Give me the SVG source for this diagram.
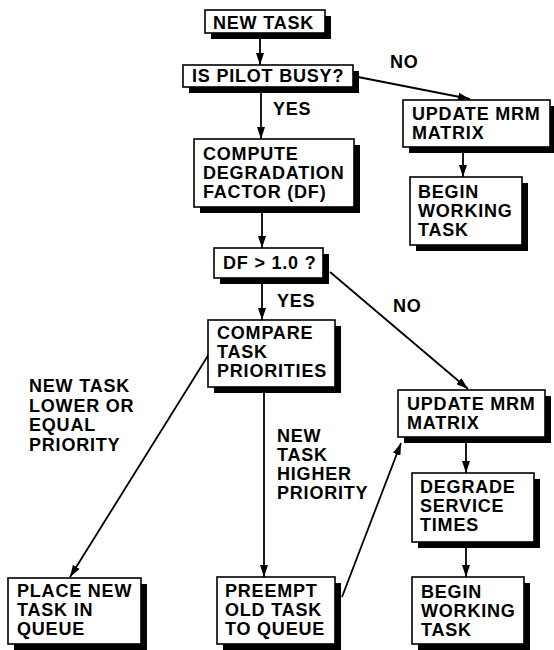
<svg xmlns="http://www.w3.org/2000/svg" width="554" height="650" viewBox="0 0 554 650">
<style>
  .bg{fill:#fff}
  .box{fill:#fff;stroke:#000;stroke-width:1.6}
  .sh{fill:#000}
  .t{font-family:"Liberation Sans",Arial,Helvetica,sans-serif;font-weight:bold;font-size:18px;letter-spacing:0.8px;fill:#000}
  .c{stroke:#000;stroke-width:1.8;fill:none;marker-end:url(#ah)}
</style>
<defs>
  <marker id="ah" viewBox="0 0 12 8" refX="12" refY="4" markerWidth="12" markerHeight="8" markerUnits="userSpaceOnUse" orient="auto">
    <path d="M0,0 L12,4 L0,8 z" fill="#000"/>
  </marker>
</defs>
<rect class="bg" x="0" y="0" width="554" height="650"/>

<g id="connectors">
  <line class="c" x1="260" y1="33" x2="260" y2="65"/>
  <line class="c" x1="261" y1="87" x2="261" y2="139"/>
  <line class="c" x1="358" y1="77" x2="470" y2="99"/>
  <line class="c" x1="463" y1="147" x2="463" y2="177"/>
  <line class="c" x1="262" y1="207" x2="262" y2="248"/>
  <line class="c" x1="262" y1="278" x2="262" y2="320"/>
  <line class="c" x1="330" y1="272" x2="468" y2="389"/>
  <line class="c" x1="466" y1="437" x2="466" y2="473"/>
  <line class="c" x1="466" y1="542" x2="466" y2="577"/>
  <line class="c" x1="209" y1="354" x2="70" y2="577"/>
  <line class="c" x1="264" y1="387" x2="264" y2="577"/>
  <line class="c" x1="342" y1="597" x2="401" y2="443"/>
</g>

<g id="labels">
  <text class="t" x="390" y="68">NO</text>
  <text class="t" x="273" y="115">YES</text>
  <text class="t" x="277" y="307">YES</text>
  <text class="t" x="393" y="312">NO</text>
  <text class="t" x="29" y="392">NEW TASK</text>
  <text class="t" x="29" y="411.5">LOWER OR</text>
  <text class="t" x="29" y="431">EQUAL</text>
  <text class="t" x="29" y="450.5">PRIORITY</text>
  <text class="t" x="277" y="442">NEW</text>
  <text class="t" x="277" y="461">TASK</text>
  <text class="t" x="277" y="480">HIGHER</text>
  <text class="t" x="277" y="499">PRIORITY</text>
</g>

<g id="new-task">
  <rect class="sh" x="211" y="16" width="120" height="23"/>
  <rect class="box" x="205" y="10" width="120" height="23"/>
  <text class="t" x="213" y="29">NEW TASK</text>
</g>
<g id="pilot-busy">
  <rect class="sh" x="189" y="71" width="170" height="22"/>
  <rect class="box" x="183" y="65" width="170" height="22"/>
  <text class="t" x="192" y="82">IS PILOT BUSY?</text>
</g>
<g id="update-mrm-1">
  <rect class="sh" x="409" y="106" width="147" height="47"/>
  <rect class="box" x="403" y="100" width="147" height="47"/>
  <text class="t" x="412" y="120">UPDATE MRM</text>
  <text class="t" x="412" y="139">MATRIX</text>
</g>
<g id="begin-working-1">
  <rect class="sh" x="416" y="183" width="112" height="68"/>
  <rect class="box" x="410" y="177" width="112" height="68"/>
  <text class="t" x="418" y="198">BEGIN</text>
  <text class="t" x="418" y="217">WORKING</text>
  <text class="t" x="418" y="236">TASK</text>
</g>
<g id="compute-df">
  <rect class="sh" x="200" y="145" width="160" height="68"/>
  <rect class="box" x="194" y="139" width="160" height="68"/>
  <text class="t" x="203" y="160">COMPUTE</text>
  <text class="t" x="203" y="179">DEGRADATION</text>
  <text class="t" x="203" y="198">FACTOR (DF)</text>
</g>
<g id="df-test">
  <rect class="sh" x="220" y="254" width="109" height="30"/>
  <rect class="box" x="214" y="248" width="109" height="30"/>
  <text class="t" x="223" y="269">DF &gt; 1.0 ?</text>
</g>
<g id="compare">
  <rect class="sh" x="214" y="326" width="127" height="67"/>
  <rect class="box" x="208" y="320" width="127" height="67"/>
  <text class="t" x="217" y="339">COMPARE</text>
  <text class="t" x="217" y="358">TASK</text>
  <text class="t" x="217" y="377">PRIORITIES</text>
</g>
<g id="update-mrm-2">
  <rect class="sh" x="404" y="396" width="147" height="47"/>
  <rect class="box" x="398" y="390" width="147" height="47"/>
  <text class="t" x="407" y="410">UPDATE MRM</text>
  <text class="t" x="407" y="429">MATRIX</text>
</g>
<g id="degrade">
  <rect class="sh" x="418" y="479" width="122" height="69"/>
  <rect class="box" x="412" y="473" width="122" height="69"/>
  <text class="t" x="420" y="493">DEGRADE</text>
  <text class="t" x="420" y="512">SERVICE</text>
  <text class="t" x="420" y="531">TIMES</text>
</g>
<g id="begin-working-2">
  <rect class="sh" x="418" y="583" width="112" height="67"/>
  <rect class="box" x="412" y="577" width="112" height="67"/>
  <text class="t" x="421" y="598">BEGIN</text>
  <text class="t" x="421" y="617">WORKING</text>
  <text class="t" x="421" y="636">TASK</text>
</g>
<g id="place-new">
  <rect class="sh" x="14" y="584" width="133" height="66"/>
  <rect class="box" x="8" y="578" width="133" height="66"/>
  <text class="t" x="17" y="597">PLACE NEW</text>
  <text class="t" x="17" y="616">TASK IN</text>
  <text class="t" x="17" y="635">QUEUE</text>
</g>
<g id="preempt">
  <rect class="sh" x="223" y="583" width="118" height="67"/>
  <rect class="box" x="217" y="577" width="118" height="67"/>
  <text class="t" x="225" y="597">PREEMPT</text>
  <text class="t" x="225" y="616">OLD TASK</text>
  <text class="t" x="225" y="635">TO QUEUE</text>
</g>
</svg>
